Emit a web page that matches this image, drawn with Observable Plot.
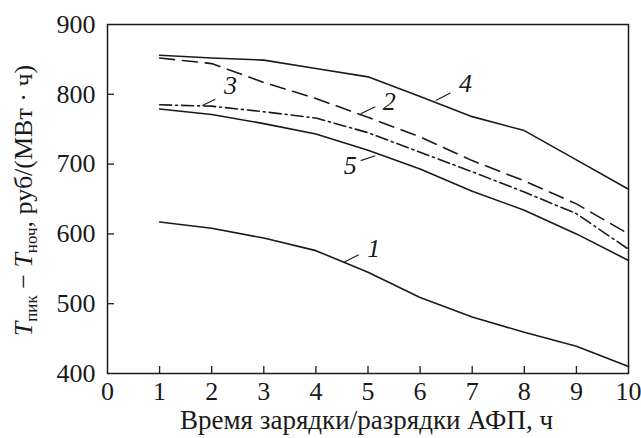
<!DOCTYPE html>
<html>
<head>
<meta charset="utf-8">
<script src="https://cdn.jsdelivr.net/npm/d3@7"></script>
<script src="https://cdn.jsdelivr.net/npm/@observablehq/plot@0.6"></script>
<style>
  html, body { margin: 0; padding: 0; background: #fff; }
  #chart svg { display: block; }
  #chart svg text { font-family: "Liberation Serif", serif; }
</style>
</head>
<body>
<div id="chart"></div>
<script>
// ---- data ----
const hours = [1, 2, 3, 4, 5, 6, 7, 8, 9, 10];
const series1 = [617, 608, 594, 576, 545, 509, 481, 459, 439, 410];
const series2 = [852, 844, 817, 794, 767, 739, 705, 676, 643, 600];
const series3 = [785, 783, 775, 766, 745, 717, 689, 660, 629, 578];
const series4 = [856, 852, 849, 837, 825, 797, 768, 748, 706, 664];
const series5 = [779, 771, 758, 743, 720, 693, 661, 634, 600, 562];
const xTicks = [0, 1, 2, 3, 4, 5, 6, 7, 8, 9, 10];
const yTicks = [400, 500, 600, 700, 800, 900];
const xTitle = "Время зарядки/разрядки АФП, ч";

// curve labels (annotation anchors in data units)
const labelNames = ["1", "2", "3", "4", "5"];
const labelX = [5.11, 5.41, 2.36, 6.87, 4.66];
const labelY = [579, 790, 813, 815, 698];
const leaderX1 = [4.53, 4.86, 1.82, 6.30, 4.86];
const leaderY1 = [559, 772, 784, 791, 705];
const leaderX2 = [4.82, 5.14, 2.07, 6.58, 5.14];
const leaderY2 = [570, 782, 793, 802, 712];

const rows = (ys) => hours.map((h, i) => ({x: h, y: ys[i]}));
const labels = labelNames.map((n, i) => ({n, x: labelX[i], y: labelY[i]}));
const leaders = labelNames.map((n, i) => ({x1: leaderX1[i], y1: leaderY1[i], x2: leaderX2[i], y2: leaderY2[i]}));

const W = 641, H = 438;
const mL = 107, mR = 13, mT = 24, mB = 65;
const innerH = H - mT - mB, innerW = W - mL - mR;
const ink = "#1a1a1a";
const serif = "Liberation Serif";

const chart = Plot.plot({
  width: W,
  height: H,
  marginLeft: mL,
  marginRight: mR,
  marginTop: mT,
  marginBottom: mB,
  style: {fontFamily: serif, fontSize: "26px", color: ink, background: "#fff"},
  x: {domain: [0, 10]},
  y: {domain: [400, 900]},
  marks: [
    Plot.axisX({ticks: xTicks, tickSize: 0, tickPadding: 8, label: null, tickFormat: d => String(d), fontFamily: serif, fontSize: 26, fill: ink}),
    Plot.axisY({ticks: yTicks, tickSize: 0, tickPadding: 12, label: null, tickFormat: d => String(d), fontFamily: serif, fontSize: 26, fill: ink}),
    Plot.tickX(xTicks.slice(1, -1), {x: d => d, stroke: ink, strokeWidth: 1.3, insetTop: innerH - 7}),
    Plot.tickY(yTicks.slice(1, -1), {y: d => d, stroke: ink, strokeWidth: 1.3, insetRight: innerW - 7}),
    Plot.line(rows(series1), {x: "x", y: "y", stroke: ink, strokeWidth: 1.6}),
    Plot.line(rows(series2), {x: "x", y: "y", stroke: ink, strokeWidth: 1.6, strokeDasharray: "15,8"}),
    Plot.line(rows(series3), {x: "x", y: "y", stroke: ink, strokeWidth: 1.6, strokeDasharray: "12,4,2,4"}),
    Plot.line(rows(series4), {x: "x", y: "y", stroke: ink, strokeWidth: 1.6}),
    Plot.line(rows(series5), {x: "x", y: "y", stroke: ink, strokeWidth: 1.6}),
    Plot.link(leaders, {x1: "x1", y1: "y1", x2: "x2", y2: "y2", stroke: ink, strokeWidth: 1.1}),
    Plot.text(labels, {x: "x", y: "y", text: "n", fontSize: 26, fontStyle: "italic", fontFamily: serif, fill: ink}),
    Plot.frame({stroke: ink, strokeWidth: 1.5})
  ]
});

const svg = d3.select(chart);
// x-axis title
svg.append("text")
  .attr("x", mL + innerW / 2 - 1)
  .attr("y", 429)
  .attr("text-anchor", "middle")
  .attr("fill", ink)
  .attr("font-family", serif)
  .attr("font-size", 27)
  .text(xTitle);

// y-axis title with italic T and subscripts
const yt = svg.append("text")
  .attr("transform", `translate(32,${mT + innerH / 2 + 2}) rotate(-90)`)
  .attr("text-anchor", "middle")
  .attr("fill", ink)
  .attr("font-family", serif)
  .attr("font-size", 26);
yt.append("tspan").attr("font-style", "italic").text("T");
yt.append("tspan").attr("font-size", 17).attr("dy", 5).text("пик");
yt.append("tspan").attr("dy", -5).text(" − ");
yt.append("tspan").attr("font-style", "italic").text("T");
yt.append("tspan").attr("font-size", 17).attr("dy", 5).text("ноч");
yt.append("tspan").attr("dy", -5).text(", руб/(МВт · ч)");

document.getElementById("chart").appendChild(chart);
</script>
</body>
</html>
